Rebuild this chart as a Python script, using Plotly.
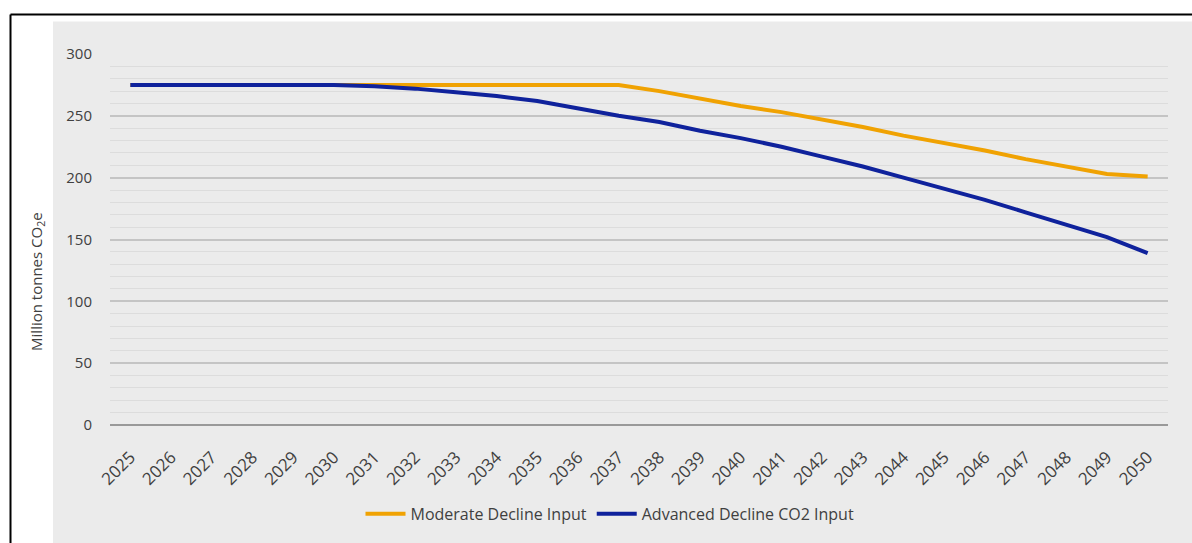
import plotly.graph_objects as go

years = [str(y) for y in range(2025, 2051)]
moderate = [275, 275, 275, 275, 275, 275, 275, 275, 275, 275, 275, 275, 275,
            270, 264, 258, 253, 247, 241, 234, 228, 222, 215, 209, 203, 201]
advanced = [275, 275, 275, 275, 275, 275, 274, 272, 269, 266, 262, 256, 250,
            245, 238, 232, 225, 217, 209, 200, 191, 182, 172, 162, 152, 139]
y_ticks = [0, 50, 100, 150, 200, 250, 300]

ORANGE = "#f0a202"
BLUE = "#0f229c"
TXT = "#404040"
FONT = "Open Sans"

W, H = 1192, 543
L, R, T, B = 110, 1168, 54, 430
pw, ph = R - L, B - T

def px(x):
    return (x - L) / pw

def py(y):
    return (B - y) / ph

fig = go.Figure()
fig.add_trace(go.Scatter(x=years, y=moderate, mode="lines", name="Moderate Decline Input",
                         line=dict(color=ORANGE, width=4)))
fig.add_trace(go.Scatter(x=years, y=advanced, mode="lines", name="Advanced Decline CO2 Input",
                         line=dict(color=BLUE, width=4)))

shapes = [
    dict(type="rect", xref="paper", yref="paper", x0=px(53), x1=px(1200), y0=py(550), y1=py(21),
         fillcolor="#ebebeb", line=dict(width=0), layer="below"),
    dict(type="line", xref="paper", yref="paper", x0=px(10.5), x1=px(10.5), y0=py(550), y1=py(14),
         line=dict(color="black", width=2)),
    dict(type="line", xref="paper", yref="paper", x0=px(10.5), x1=px(1200), y0=py(14), y1=py(14),
         line=dict(color="black", width=2)),
]

fig.update_layout(
    width=W, height=H,
    margin=dict(l=L, r=W - R, t=T, b=H - B),
    paper_bgcolor="white",
    plot_bgcolor="rgba(0,0,0,0)",
    shapes=shapes,
    font=dict(family=FONT, color=TXT, size=14),
    showlegend=True,
    legend=dict(orientation="h", x=px(610), xanchor="center", y=py(520), yanchor="middle",
                font=dict(size=16, color=TXT, family=FONT), bgcolor="rgba(0,0,0,0)",
                itemwidth=40, tracegroupgap=0),
    xaxis=dict(type="category", range=[-0.5, 25.5], showgrid=False, zeroline=False,
               showline=False, tickangle=-45, tickfont=dict(size=17, color=TXT, family=FONT),
               ticks="", ticklabelstandoff=18),
    yaxis=dict(range=[0, 300], tickvals=y_ticks, showgrid=True, gridcolor="#c4c4c4",
               gridwidth=1.5, zeroline=True, zerolinecolor="#999999", zerolinewidth=1.5,
               showline=False, ticks="", tickfont=dict(size=15, color=TXT, family=FONT),
               ticklabelstandoff=17,
               minor=dict(dtick=10, showgrid=True, gridcolor="#dcdcdc", gridwidth=1)),
    annotations=[
        dict(text="Million tonnes CO<sub>2</sub>e", xref="paper", yref="paper",
             x=px(37), y=py(285), textangle=-90, showarrow=False,
             font=dict(size=15, color=TXT, family=FONT), xanchor="center", yanchor="middle"),
    ],
)

fig.write_html("out.html")
